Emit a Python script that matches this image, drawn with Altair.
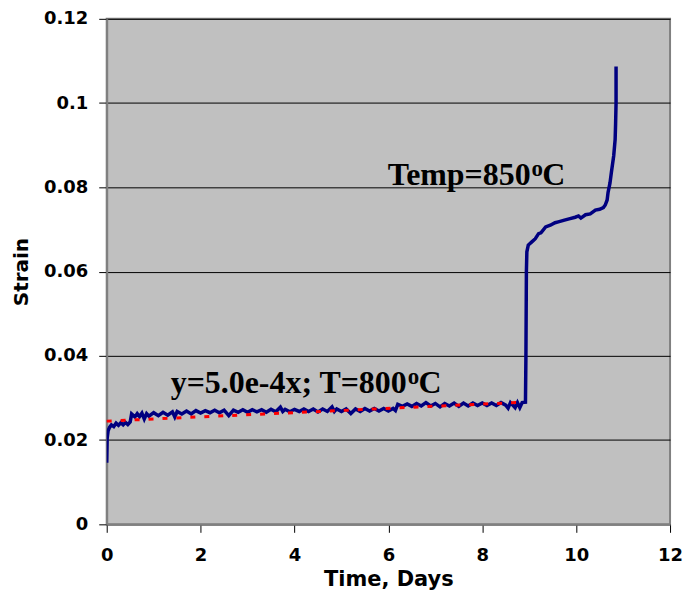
import altair as alt
import pandas as pd

# ---- measured creep curve (time in days, strain) ----
time_days = [
    0.0, 0.01, 0.03, 0.06, 0.1, 0.15, 0.2, 0.25, 0.3, 0.35, 0.4, 0.45, 0.5,
    0.53, 0.6, 0.65, 0.7, 0.75, 0.8, 0.85, 0.9, 1.0, 1.1, 1.2, 1.3, 1.4, 1.45,
    1.5, 1.6, 1.7, 1.8, 1.9, 2.0, 2.1, 2.2, 2.3, 2.4, 2.5, 2.6, 2.7, 2.8, 2.9,
    3.0, 3.1, 3.2, 3.3, 3.4, 3.5, 3.6, 3.7, 3.75, 3.8, 3.9, 4.0, 4.1, 4.2, 4.3,
    4.4, 4.5, 4.6, 4.7, 4.8, 4.85, 4.9, 5.0, 5.1, 5.2, 5.3, 5.4, 5.5, 5.6, 5.7,
    5.8, 5.9, 6.0, 6.1, 6.15, 6.2, 6.3, 6.4, 6.5, 6.6, 6.7, 6.8, 6.9, 7.0, 7.1,
    7.2, 7.3, 7.4, 7.5, 7.6, 7.7, 7.8, 7.9, 8.0, 8.1, 8.2, 8.3, 8.4, 8.5, 8.55,
    8.6, 8.7, 8.75, 8.8, 8.85, 8.92,
    8.93, 8.94, 8.95, 8.98, 9.05, 9.13, 9.2, 9.25, 9.35, 9.45, 9.55, 9.62,
    9.75, 9.85, 9.98, 10.05, 10.1, 10.2, 10.3, 10.41, 10.5, 10.58, 10.62,
    10.66, 10.68, 10.72, 10.75, 10.8, 10.83, 10.84, 10.85, 10.85,
]
strain = [
    0.0146, 0.0205, 0.0222, 0.0230, 0.0236, 0.0232, 0.0240, 0.0235, 0.0241, 0.0236, 0.0242, 0.0237, 0.0243,
    0.0262, 0.0255, 0.0263, 0.0256, 0.0264, 0.0250, 0.0263, 0.0257, 0.0265, 0.0258, 0.0266, 0.0259, 0.0267, 0.0255,
    0.0268, 0.0262, 0.0269, 0.0262, 0.0270, 0.0264, 0.0270, 0.0265, 0.0271, 0.0265, 0.0271, 0.0258, 0.0271, 0.0266, 0.0272,
    0.0266, 0.0272, 0.0267, 0.0272, 0.0266, 0.0273, 0.0267, 0.0278, 0.0268, 0.0273, 0.0267, 0.0273, 0.0268, 0.0274, 0.0268,
    0.0274, 0.0267, 0.0274, 0.0268, 0.0279, 0.0268, 0.0274, 0.0268, 0.0274, 0.0263, 0.0274, 0.0268, 0.0275, 0.0269, 0.0275,
    0.0269, 0.0275, 0.0269, 0.0275, 0.0270, 0.0285, 0.0280, 0.0286, 0.0280, 0.0287, 0.0281, 0.0289, 0.0281, 0.0287, 0.0279,
    0.0287, 0.0281, 0.0288, 0.0280, 0.0288, 0.0281, 0.0288, 0.0282, 0.0288, 0.0282, 0.0288, 0.0282, 0.0289, 0.0283, 0.0276,
    0.0289, 0.0277, 0.0289, 0.0277, 0.0289, 0.0290,
    0.0400, 0.0600, 0.0647, 0.0663, 0.0670, 0.0678, 0.0690, 0.0692, 0.0706, 0.0710, 0.0716, 0.0718,
    0.0722, 0.0725, 0.0729, 0.0732, 0.0727, 0.0735, 0.0737, 0.0746, 0.0748, 0.0752, 0.0758,
    0.0770, 0.0788, 0.0810, 0.0835, 0.0875, 0.0913, 0.0950, 0.1000, 0.1087,
]

# ---- linear fit at 800 C ----
fit_time = [0.0, 8.9]
fit_strain = [0.0245, 0.0290]

# ---- axes ----
x_ticks = [0, 2, 4, 6, 8, 10, 12]
y_ticks = [0, 0.02, 0.04, 0.06, 0.08, 0.1, 0.12]

# ---- annotations ----
ann_text = ["Temp=850", "y=5.0e-4x; T=800"]
ann_t = [9.03, 6.39]
ann_s = [0.0805, 0.0311]
sup_text = ["o", "o"]
sup_t = [9.05, 6.415]
sup_s = [0.0828, 0.0334]
unit_text = ["C", "C"]
unit_t = [9.28, 6.64]
unit_s = [0.0805, 0.0311]

df = pd.DataFrame({"t": time_days, "s": strain, "i": list(range(len(time_days)))})
df_fit = pd.DataFrame({"t": fit_time, "s": fit_strain})
df_ann = pd.DataFrame({"t": ann_t, "s": ann_s, "txt": ann_text})
df_sup = pd.DataFrame({"t": sup_t, "s": sup_s, "txt": sup_text})
df_unit = pd.DataFrame({"t": unit_t, "s": unit_s, "txt": unit_text})

AX_FONT = "DejaVu Sans"
PLOT_H = 507

x_enc = alt.X(
    "t:Q",
    scale=alt.Scale(domain=[0, 12], nice=False),
    axis=alt.Axis(
        values=x_ticks, format="d", title="Time, Days", grid=False,
        tickSize=8, tickColor="black", tickWidth=1,
        domainColor="#808080", domainWidth=2,
        labelFont=AX_FONT, labelFontWeight="bold", labelFontSize=18,
        labelColor="black", labelPadding=14, labelFlush=False,
        titleFont=AX_FONT, titleFontWeight="bold", titleFontSize=21,
        titleColor="black", titleY=55, titleBaseline="middle",
    ),
)
y_enc = alt.Y(
    "s:Q",
    scale=alt.Scale(domain=[0, 0.12], nice=False),
    axis=alt.Axis(
        values=y_ticks, format=".2~f", title="Strain", grid=True,
        gridColor="black", gridWidth=1, gridOpacity=1,
        tickSize=8, tickColor="black", tickWidth=1,
        domainColor="#808080", domainWidth=2,
        labelFont=AX_FONT, labelFontWeight="bold", labelFontSize=18,
        labelColor="black", labelPadding=11, labelOverlap=False,
        titleFont=AX_FONT, titleFontWeight="bold", titleFontSize=20,
        titleColor="black", titleX=-85, titleY=PLOT_H / 2, titleAlign="center",
        titleBaseline="middle", titleAngle=270,
    ),
)

blue = alt.Chart(df).mark_line(color="#000080", strokeWidth=3.5, clip=True).encode(
    x=x_enc, y=y_enc, order="i:Q"
)
red = alt.Chart(df_fit).mark_line(
    color="#FF0000", strokeWidth=3, strokeDash=[5, 9]
).encode(x=x_enc, y=y_enc)

SERIF = "Liberation Serif"
t_main = alt.Chart(df_ann).mark_text(
    font=SERIF, fontWeight="bold", fontSize=32, align="right",
    baseline="alphabetic", color="black"
).encode(x=x_enc, y=y_enc, text="txt:N")
t_sup = alt.Chart(df_sup).mark_text(
    font=SERIF, fontWeight="bold", fontSize=23, align="left",
    baseline="alphabetic", color="black"
).encode(x=x_enc, y=y_enc, text="txt:N")
t_unit = alt.Chart(df_unit).mark_text(
    font=SERIF, fontWeight="bold", fontSize=32, align="left",
    baseline="alphabetic", color="black"
).encode(x=x_enc, y=y_enc, text="txt:N")

chart = (
    alt.layer(blue, red, t_main, t_sup, t_unit)
    .properties(
        width=565,
        height=PLOT_H,
        padding={"left": 99, "top": 10, "right": 16, "bottom": 66},
        autosize=alt.AutoSizeParams(type="none"),
        background="white",
    )
    .configure_view(fill="#C0C0C0", stroke="#808080", strokeWidth=2)
)

chart.save("out.html", embed_options={"renderer": "svg", "actions": False})
